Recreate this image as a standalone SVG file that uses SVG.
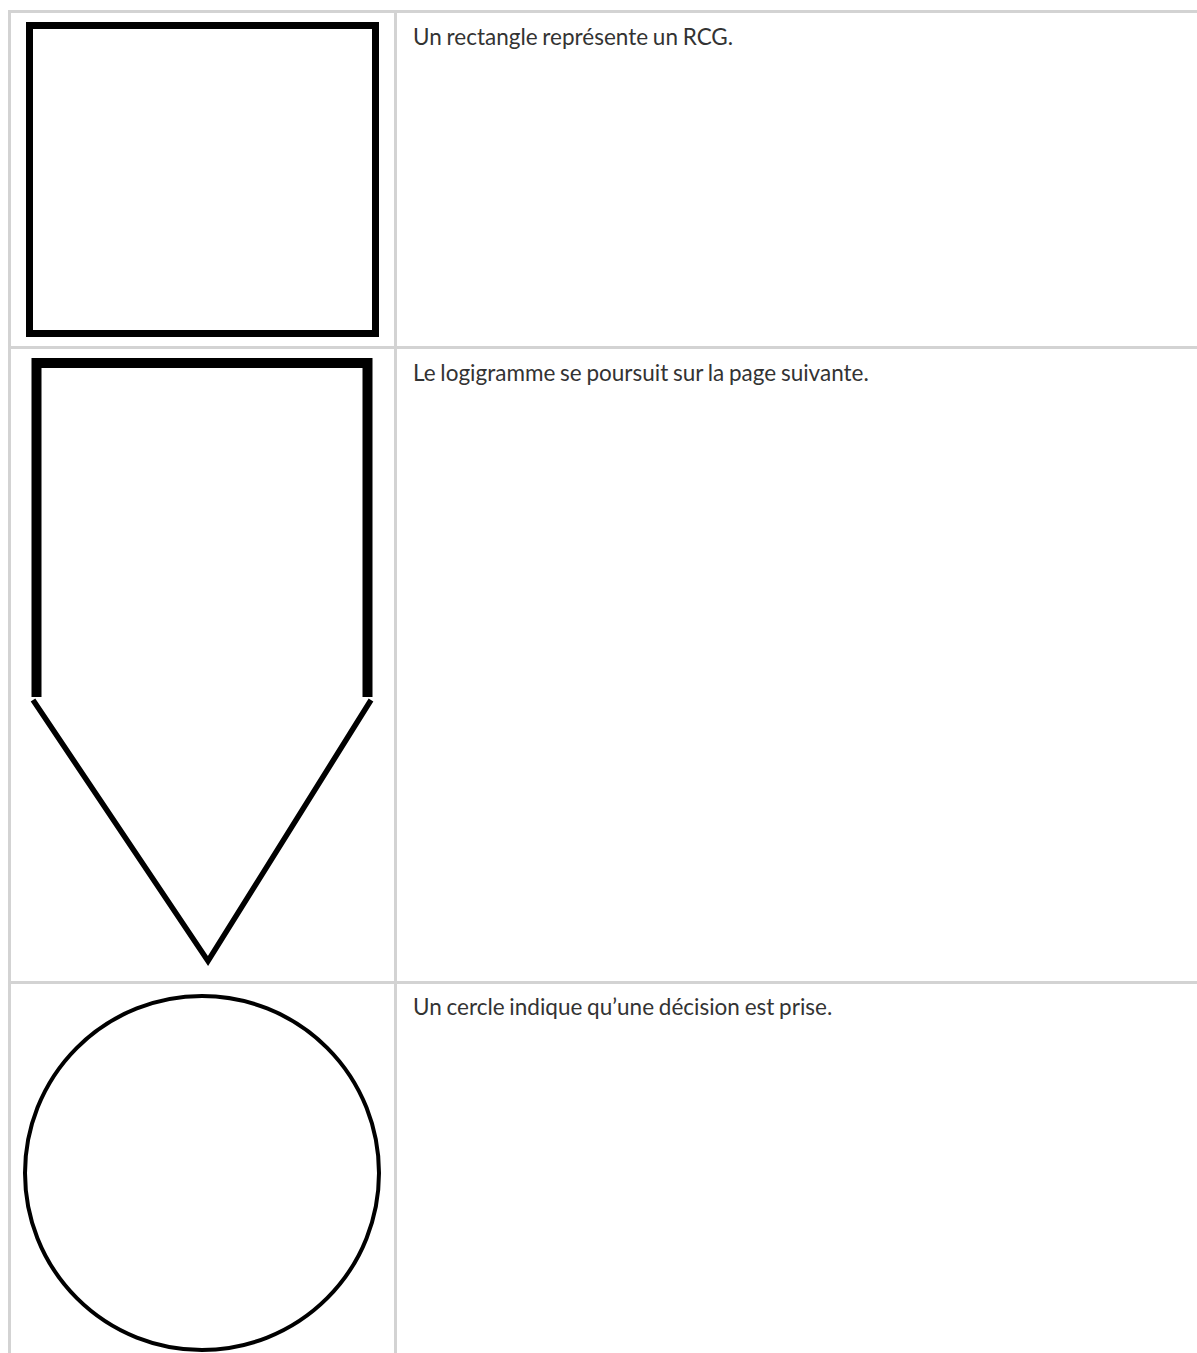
<svg xmlns="http://www.w3.org/2000/svg" width="1197" height="1353" viewBox="0 0 1197 1353">
<style>
.grid{stroke:#d3d3d3;stroke-width:3;fill:none}
.shape{fill:none;stroke:#000}
.lbl{font-family:Lato,"Liberation Sans",sans-serif;font-size:22.5px;word-spacing:-1px;fill:#333}
</style>
<rect width="1197" height="1353" fill="#fff"/>
<g id="grid">
<line class="grid" x1="9.5" y1="11.5" x2="1197" y2="11.5"/>
<line class="grid" x1="9.5" y1="10" x2="9.5" y2="1353"/>
<line class="grid" x1="395.5" y1="11.5" x2="395.5" y2="1353"/>
<line class="grid" x1="9.5" y1="347.5" x2="1197" y2="347.5"/>
<line class="grid" x1="9.5" y1="982.5" x2="1197" y2="982.5"/>
</g>
<g id="rcg">
<rect class="shape" x="29.5" y="25.5" width="346" height="308" stroke-width="7"/>
<text class="lbl" x="413" y="45">Un rectangle représente un RCG.</text>
</g>
<g id="page-suivante">
<path class="shape" d="M36.5,697 V363 H367.5 V697" stroke-width="10"/>
<path class="shape" d="M33,700 L208,961 L371,700" stroke-width="5.5" stroke-linejoin="miter"/>
<text class="lbl" x="413" y="381">Le logigramme se poursuit sur la page suivante.</text>
</g>
<g id="decision">
<circle class="shape" cx="202" cy="1173" r="177" stroke-width="4"/>
<text class="lbl" x="413" y="1015">Un cercle indique qu’une décision est prise.</text>
</g>
</svg>
